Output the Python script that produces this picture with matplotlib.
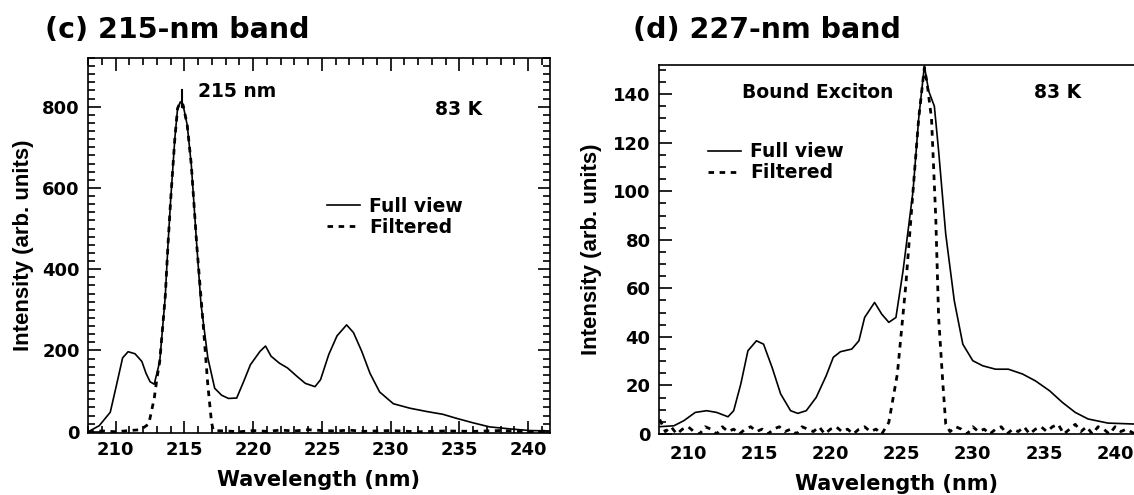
import matplotlib
matplotlib.use('Agg')
import matplotlib.pyplot as plt
from matplotlib.ticker import MultipleLocator

plt.rcParams['font.family'] = ['DejaVu Sans']
plt.rcParams['font.weight'] = 'bold'

# (c) 215-nm band, full view
c_full_x = [208.0, 208.8, 209.6, 210.0, 210.5, 210.9, 211.4, 211.9, 212.2, 212.5, 212.8, 213.2,
            213.6, 213.8, 214.0, 214.3, 214.5, 214.7, 214.9, 215.2, 215.5, 215.9, 216.2, 216.7,
            217.2, 217.7, 218.2, 218.8, 219.3, 219.8, 220.5, 220.9, 221.3, 221.9, 222.5, 223.2,
            223.8, 224.5, 224.9, 225.5, 226.1, 226.8, 227.3, 227.9, 228.5, 229.2, 230.2, 231.4,
            232.6, 233.8, 234.8, 236.0, 237.2, 238.7, 240.1, 241.6]
c_full_y = [0, 15, 48, 107, 182, 197, 192, 173, 144, 123, 117, 173,
            332, 460, 573, 722, 796, 812, 804, 755, 656, 457, 315, 182,
            107, 90, 82, 83, 123, 165, 198, 211, 186, 169, 157, 136,
            119, 111, 128, 190, 236, 263, 244, 198, 144, 98, 69, 58,
            50, 43, 33, 22, 12, 7, 3, 2]

# (c) filtered
c_filt_x = [208.0, 209.0, 210.0, 211.0, 211.8, 212.4, 212.8, 213.0, 213.2, 213.6, 213.8, 214.0,
            214.3, 214.5, 214.7, 214.9, 215.2, 215.5, 215.9, 216.4, 216.7, 216.97, 217.1, 218.0,
            219.0, 220.0, 221.0, 222.0, 223.0, 224.0, 225.0, 226.0, 227.0, 228.0, 230.0, 232.0,
            234.0, 236.0, 238.0, 240.0, 241.6]
c_filt_y = [0, 2, 0, 3, 5, 19, 82, 132, 173, 332, 460, 573,
            722, 796, 812, 804, 755, 656, 457, 248, 115, 23, 3, 2,
            0, 3, 1, 4, 2, 5, 3, 2, 4, 1, 3, 0,
            2, 1, 3, 0, 2]

# (d) 227-nm band, full view
d_full_x = [207.95, 209.0, 209.7, 210.5, 211.3, 212.0, 212.8, 213.2, 213.7, 214.2, 214.8, 215.3,
            215.9, 216.5, 217.2, 217.7, 218.3, 219.0, 219.7, 220.2, 220.7, 221.5, 222.0, 222.4,
            223.1, 223.6, 224.1, 224.6, 225.1, 225.8, 226.2, 226.6, 226.9, 227.3, 227.6, 228.1,
            228.7, 229.3, 230.0, 230.7, 231.6, 232.5, 233.5, 234.4, 235.4, 236.3, 237.2, 238.1,
            239.5, 241.4]
d_full_y = [3.0, 3.4, 5.5, 8.9, 9.6, 8.9, 7.1, 9.6, 20.6, 34.3, 38.4, 37.0,
            27.4, 16.5, 9.6, 8.5, 9.6, 15.1, 24.0, 31.6, 33.9, 35.0, 38.4, 48.0,
            54.2, 49.4, 46.0, 48.0, 67.2, 100.0, 130.0, 151.6, 141.3, 135.0, 116.6, 82.3,
            54.9, 37.0, 30.2, 28.1, 26.7, 26.7, 24.7, 21.9, 17.8, 13.0, 8.9, 6.2,
            4.5, 4.1]

# (d) filtered
d_filt_x = [208.0, 208.4, 208.8, 209.2, 209.6, 210.0, 210.4, 210.8, 211.2, 211.6, 212.0, 212.4,
            212.8, 213.2, 213.6, 214.0, 214.4, 214.8, 215.2, 215.6, 216.0, 216.4, 216.8, 217.2,
            217.6, 218.0, 218.4, 218.8, 219.2, 219.6, 220.0, 220.4, 220.8, 221.2, 221.6, 222.0,
            222.4, 222.8, 223.2, 223.6, 224.1, 224.7, 225.3, 225.8, 226.2, 226.6, 226.8, 227.1,
            227.4, 227.6, 227.9, 228.1, 228.4, 228.8, 229.2, 229.6, 230.0, 230.4, 230.8, 231.2,
            231.6, 232.0, 232.4, 232.8, 233.2, 233.6, 234.0, 234.4, 234.8, 235.2, 235.6, 236.0,
            236.4, 236.8, 237.2, 237.6, 238.0, 238.4, 238.8, 239.2, 239.6, 240.0, 240.4, 240.8,
            241.4]
d_filt_y = [6, 1, 3, 0, 2, 3, 1, 0, 3, 2, 0, 3,
            1, 2, 0, 2, 3, 1, 2, 0, 2, 3, 1, 2,
            0, 3, 2, 1, 3, 0, 2, 3, 1, 2, 0, 2,
            3, 1, 2, 0, 4.8, 24.7, 61.7, 100.0, 130.0, 151.0, 144.0, 130.0,
            89.0, 48.0, 20.6, 4.1, 1, 3, 2, 0, 3, 1, 2, 0,
            2, 3, 0, 2, 1, 3, 0, 2, 3, 1, 3, 4,
            0, 2, 4, 1, 3, 0, 3, 2, 0, 3, 1, 2,
            0]

fig = plt.figure(figsize=(11.34, 4.95), dpi=100)
ax1 = fig.add_axes([0.0776, 0.1253, 0.4074, 0.7576])
ax2 = fig.add_axes([0.5811, 0.1232, 0.4198, 0.7455])

ax1.plot(c_full_x, c_full_y, color='black', lw=1.2, label='Full view')
ax1.plot(c_filt_x, c_filt_y, color='black', lw=2.0, ls=(0, (2, 2)), label='Filtered')
ax1.plot([214.8, 214.8], [800, 840], color='black', lw=1.5)
ax1.set_xlim(207.98, 241.6)
ax1.set_ylim(-3, 920)
ax1.xaxis.set_major_locator(MultipleLocator(5))
ax1.xaxis.set_minor_locator(MultipleLocator(1))
ax1.yaxis.set_major_locator(MultipleLocator(200))
ax1.yaxis.set_minor_locator(MultipleLocator(20))
ax1.tick_params(which='both', direction='in', top=True, right=True, width=1.2, labelsize=13)
ax1.tick_params(which='major', length=9, pad=6)
ax1.tick_params(which='minor', length=5)
ax1.set_xlabel('Wavelength (nm)', fontsize=15, fontweight='bold', labelpad=8)
ax1.set_ylabel('Intensity (arb. units)', fontsize=16, fontweight='bold', labelpad=6,
               family=['Liberation Sans', 'DejaVu Sans'])
ax1.text(215.95, 837, '215 nm', fontsize=13.5, fontweight='bold', va='center')
ax1.text(233.2, 793, '83 K', fontsize=13.5, fontweight='bold', va='center')
ax1.legend(loc='upper left', bbox_to_anchor=(0.517, 0.630), frameon=False, fontsize=13.5,
           handlelength=1.75, handletextpad=0.5, labelspacing=0.1, borderpad=0, borderaxespad=0)
for s in ax1.spines.values():
    s.set_linewidth(1.2)

ax2.plot(d_full_x, d_full_y, color='black', lw=1.2, label='Full view')
ax2.plot(d_filt_x, d_filt_y, color='black', lw=2.0, ls=(0, (2, 2)), label='Filtered')
ax2.set_xlim(207.95, 241.4)
ax2.set_ylim(0, 152)
ax2.xaxis.set_major_locator(MultipleLocator(5))
ax2.yaxis.set_major_locator(MultipleLocator(20))
ax2.yaxis.set_minor_locator(MultipleLocator(5))
ax2.tick_params(axis='y', which='both', direction='in', width=1.2, labelsize=13)
ax2.tick_params(axis='y', which='major', length=9, pad=6)
ax2.tick_params(axis='y', which='minor', length=5)
ax2.tick_params(axis='x', length=0, labelsize=13, pad=8)
ax2.spines['right'].set_visible(False)
for s in ax2.spines.values():
    s.set_linewidth(1.2)
ax2.set_xlabel('Wavelength (nm)', fontsize=15, fontweight='bold', labelpad=8)
ax2.set_ylabel('Intensity (arb. units)', fontsize=16, fontweight='bold', labelpad=8,
               family=['Liberation Sans', 'DejaVu Sans'])
ax2.text(213.8, 140.5, 'Bound Exciton', fontsize=13.5, fontweight='bold', va='center')
ax2.text(234.3, 140.5, '83 K', fontsize=13.5, fontweight='bold', va='center')
ax2.legend(loc='upper left', bbox_to_anchor=(0.103, 0.790), frameon=False, fontsize=13.5,
           handlelength=1.75, handletextpad=0.5, labelspacing=0.1, borderpad=0, borderaxespad=0)

fig.text(0.040, 0.923, '(c) 215-nm band', fontsize=20.5, fontweight='bold', va='baseline')
fig.text(0.558, 0.923, '(d) 227-nm band', fontsize=20.5, fontweight='bold', va='baseline')

fig.savefig('out.png', dpi=100)
